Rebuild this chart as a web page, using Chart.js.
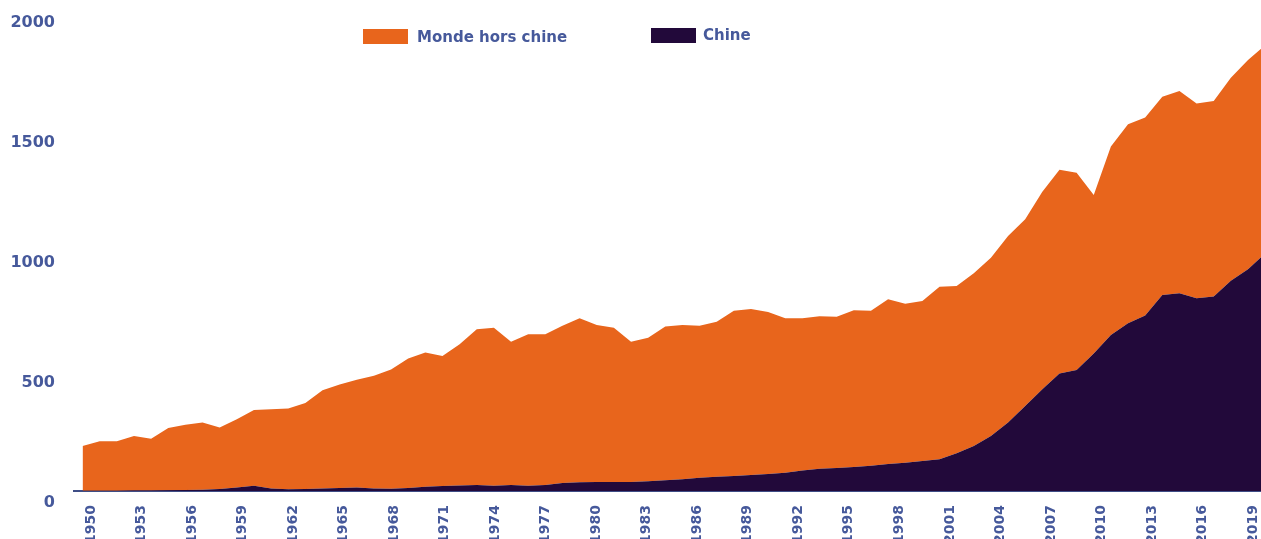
<!DOCTYPE html>
<html>
<head>
<meta charset="utf-8">
<script src="https://cdn.jsdelivr.net/npm/chart.js@4.4.1/dist/chart.umd.min.js"></script>
<style>
  html, body { margin: 0; padding: 0; background: #fff; overflow: hidden; }
  #wrap { position: absolute; left: 0; top: 0; width: 1266px; height: 546px; }
  .legend { position: absolute; font-family: "DejaVu Sans", sans-serif; font-weight: bold; font-size: 15px; color: #46599B; white-space: nowrap; }
  .legend span.box { position: absolute; width: 45px; height: 15px; }
  .legend span.txt { position: absolute; }
</style>
</head>
<body>
<div id="wrap"><canvas id="chart"></canvas></div>

<div class="legend" style="left:363px; top:29px;">
  <span class="box" style="left:0; top:0; background:#E8651C;"></span>
  <span class="txt" style="left:54px; top:-1px;">Monde hors chine</span>
</div>
<div class="legend" style="left:651px; top:28px;">
  <span class="box" style="left:0; top:0; background:#22093A;"></span>
  <span class="txt" style="left:52px; top:-2px;">Chine</span>
</div>

<script>
// years 1950 -> 2019
const years = [1950,1951,1952,1953,1954,1955,1956,1957,1958,1959,
  1960,1961,1962,1963,1964,1965,1966,1967,1968,1969,
  1970,1971,1972,1973,1974,1975,1976,1977,1978,1979,
  1980,1981,1982,1983,1984,1985,1986,1987,1988,1989,
  1990,1991,1992,1993,1994,1995,1996,1997,1998,1999,
  2000,2001,2002,2003,2004,2005,2006,2007,2008,2009,
  2010,2011,2012,2013,2014,2015,2016,2017,2018,2019];

// Chine
const chine = [1,1,1,2,2,3,4,5,8,15,
  22,10,7,8,10,12,15,10,9,13,
  18,21,23,25,22,25,22,25,33,36,
  38,37,38,41,45,49,55,59,63,67,
  71,76,85,93,96,100,105,112,118,125,
  132,157,187,229,285,354,424,490,504,573,
  650,699,731,817,824,803,810,876,924,990];

// Monde hors chine (stacked on top of Chine)
const mondeHorsChine = [187,206,206,227,216,260,272,280,257,284,
  315,331,337,359,410,432,449,470,497,539,
  559,542,588,649,658,597,631,628,656,684,
  654,643,584,598,640,643,634,646,688,691,
  675,644,635,635,630,653,646,687,662,667,
  719,697,720,743,778,778,823,849,822,660,
  785,829,825,826,843,812,815,846,872,867];

// axis labels
const yearLabels = [1950,1953,1956,1959,1962,1965,1968,1971,1974,1977,1980,1983,1986,1989,1992,1995,1998,2001,2004,2007,2010,2013,2016,2019];
const yTicks = [0,500,1000,1500,2000];

const textColor = "#46599B";

function toPoints(arr) {
  return arr.map((v, i) => ({ x: years[i], y: v }));
}

new Chart(document.getElementById("chart"), {
  type: "line",
  data: {
    datasets: [
      {
        label: "Chine",
        data: toPoints(chine),
        backgroundColor: "#22093A",
        borderWidth: 0,
        pointRadius: 0,
        fill: "origin",
        tension: 0
      },
      {
        label: "Monde hors chine",
        data: toPoints(mondeHorsChine),
        backgroundColor: "#E8651C",
        borderWidth: 0,
        pointRadius: 0,
        fill: "-1",
        tension: 0
      }
    ]
  },
  options: {
    responsive: true,
    maintainAspectRatio: false,
    animation: false,
    layout: { padding: { left: 10, top: 11, right: 0, bottom: 0 } },
    plugins: {
      legend: { display: false },
      tooltip: { enabled: false }
    },
    scales: {
      x: {
        type: "linear",
        display: false,
        min: 1949.5,
        max: 2019.05
      },
      x2: {
        type: "linear",
        position: "bottom",
        min: 1948.99,
        max: 2019.77,
        afterBuildTicks: axis => {
          axis.ticks = yearLabels.map(v => ({ value: v }));
        },
        afterFit: axis => {
          // keep the plot wide and the labels running off the bottom
          axis.height = 55;
          axis.paddingLeft = 0;
          axis.paddingRight = 0;
        },
        grid: { display: false, drawTicks: false },
        border: { display: true, color: "#3E4D86", width: 2 },
        ticks: {
          autoSkip: false,
          minRotation: 90,
          maxRotation: 90,
          padding: 14,
          color: textColor,
          font: { family: "DejaVu Sans", size: 14, weight: "bold" },
          callback: v => String(v)
        }
      },
      y: {
        stacked: true,
        min: 0,
        max: 2000,
        afterBuildTicks: axis => {
          axis.ticks = yTicks.map(v => ({ value: v }));
        },
        afterFit: axis => {
          axis.width = 64;
          axis.paddingTop = 0;
          axis.paddingBottom = 0;
        },
        grid: { display: false, drawTicks: false },
        border: { display: false },
        ticks: {
          padding: 19,
          labelOffset: 12,
          color: textColor,
          font: { family: "DejaVu Sans", size: 16, weight: "bold" },
          callback: v => String(v)
        }
      }
    }
  }
});
</script>
</body>
</html>
